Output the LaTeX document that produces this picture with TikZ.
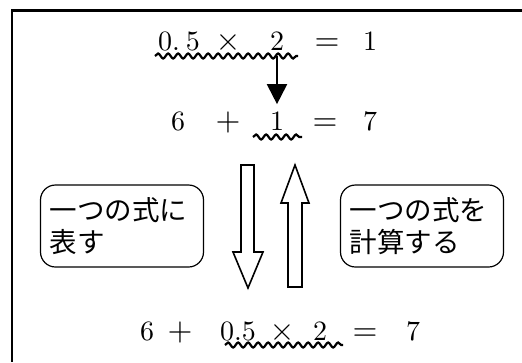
\documentclass[tikz,border=0pt]{standalone}
\usepackage{fontspec}
\newfontfamily\jpfont{Noto Sans CJK JP}
\newfontfamily\eqfont{lmroman10-regular.otf}
\usetikzlibrary{arrows.meta,decorations.pathmorphing}

\begin{document}
\begin{tikzpicture}[
    x=1pt, y=-1pt,
    sym/.style={inner sep=0pt, anchor=base, font=\eqfont\fontsize{28}{32}\selectfont},
    sign/.style={sym, font=\eqfont\fontsize{32}{36}\selectfont},
    wavy/.style={decorate, decoration={snake, segment length=10pt, amplitude=2.5pt}, line width=2.2pt},
    note/.style={draw, rounded corners=15pt, line width=1.2pt, text width=145pt, inner xsep=9pt, inner ysep=0pt, minimum height=82pt, align=left, font=\jpfont\fontsize{27.5}{32}\selectfont},
    hollow/.style={draw, line width=1.6pt, fill=white, line join=miter},
    arrow/.style={-{Triangle[width=20pt,length=20pt]}, line width=2pt}
]
\useasboundingbox (0,0) rectangle (522,362);

% Frame
\draw[line width=2.8pt] (522,10.5) -| (12,362);

% First line
\node[sym] (ahalf) at (179,50) {0.\hspace{6pt}5};
\node[sign] (atimes) at (228,50) {×};
\node[sym] (atwo) at (277,50) {2};
\node[sign] (aeq) at (327,50) {=};
\node[sym] (aone) at (370,50) {1};
\coordinate (w1s) at (155,56);
\coordinate (w1e) at (298,56);
\draw[wavy] (w1s) -- (w1e);

% Second line
\node[sym] (bsix) at (178,130) {6};
\node[sign] (bplus) at (228,130) {+};
\node[sym] (bone) at (277,130) {1};
\node[sign] (beq) at (325,130) {=};
\node[sym] (bseven) at (370,130) {7};
\coordinate (w2s) at (253,137);
\coordinate (w2e) at (302,137);
\draw[wavy] (w2s) -- (w2e);

% Arrow
\draw[arrow] (atwo.base |- w1s) -- ([yshift=7pt]bone.north);

% Notes
\node[note] (lnote) at (122,226) {一つの式に\\表す};
\node[note] (rnote) at (422,226) {一つの式を\\計算する};

% Hollow arrows
\draw[hollow] (241,165) -- (254,165) -- (254,252) -- (263,252) -- (248,288)
    -- (233,252) -- (241,252) -- cycle;
\draw[hollow] (288,287) -- (302,287) -- (302,203) -- (309,203) -- (295,165)
    -- (281,203) -- (288,203) -- cycle;

% Third line
\node[sym] (csix) at (147,340) {6};
\node[sign] (cplus) at (180,340) {+};
\node[sym] (chalf) at (238,340) {0.5};
\node[sign] (ctimes) at (282,340) {×};
\node[sym] (ctwo) at (320,340) {2};
\node[sign] (ceq) at (365,340) {=};
\node[sym] (cseven) at (413,340) {7};
\coordinate (w3s) at (225,345);
\coordinate (w3e) at (343,345);
\draw[wavy] (w3s) -- (w3e);

\end{tikzpicture}
\end{document}
